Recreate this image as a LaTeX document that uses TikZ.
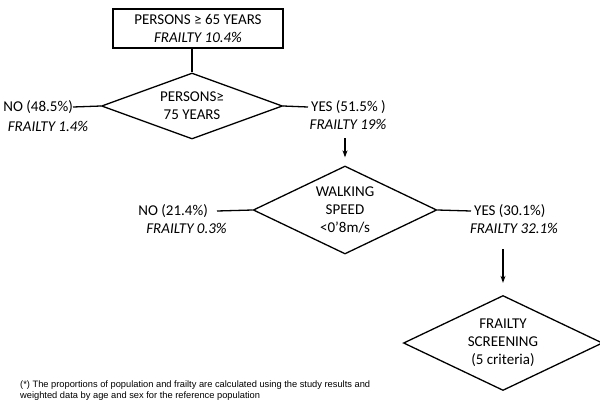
\documentclass[tikz,border=0pt]{standalone}
\usepackage{fontspec}
\setmainfont{Carlito}
\newfontfamily\footfont{Liberation Sans}
\usetikzlibrary{shapes.geometric,arrows.meta}
\begin{document}
\begin{tikzpicture}[x=1pt,y=-1pt,
  every node/.style={font=\fontsize{15}{18}\selectfont, align=center, inner sep=0pt},
  boxnode/.style={draw, line width=1.3pt, minimum width=170pt, minimum height=39pt},
  dia/.style={draw, diamond, line width=1.3pt, shape aspect=2.7},
  frl/.style={font=\fontsize{15}{18}\selectfont\itshape},
  conn/.style={line width=1.3pt},
  arr/.style={line width=1.3pt, -{Stealth[length=7pt,width=5pt]}}
]
\useasboundingbox (0,0) rectangle (600,405);

\node[boxnode] (top) at (198,28.5) {PERSONS ≥ 65 YEARS\\\textit{FRAILTY 10.4\%}};

\node[dia, minimum width=181pt, minimum height=66pt] (d1) at (192,106) {PERSONS≥\\75 YEARS};

\node[anchor=east] (no1) at (73,107) {NO (48.5\%)};
\node[frl] (fr1) at (48,126) {FRAILTY 1.4\%};

\node[anchor=west] (yes1) at (311,107) {YES (51.5\% )};
\node[frl] (fr2) at (348,124) {FRAILTY 19\%};

\node[dia, minimum width=182pt, minimum height=88pt] (d2) at (345,210) {WALKING\\SPEED\\<0’8m/s};

\node[anchor=east] (no2) at (208,211) {NO (21.4\%)};
\node[frl] (fr3) at (186.5,228) {FRAILTY 0.3\%};

\node[anchor=west] (yes2) at (474,211) {YES (30.1\%)};
\node[frl] (fr4) at (514,228) {FRAILTY 32.1\%};

\node[dia, minimum width=183pt, minimum height=95pt] (d3) at (503,343) {FRAILTY\\SCREENING\\(5 criteria)};

\node[anchor=north west, align=left, font=\footfont\fontsize{9.3}{10.5}\selectfont] (foot) at (20,381) {(*) The proportions of population and frailty are calculated using the study results and\\weighted data by age and sex for the reference population};

\draw[conn] (top.south -| d1.north) -- (d1.north);
\draw[conn] (d1.west) -- (no1.east);
\draw[conn] (d1.east) -- ([xshift=-3pt]yes1.west);
\draw[arr] (fr2.south -| d2.north) ++(0,9) coordinate (a1s) (a1s) -- ([yshift=8pt]d2.north);
\draw[conn] (d2.west) -- ([xshift=9pt]no2.east);
\draw[conn] (d2.east) -- ([xshift=-3pt]yes2.west);
\draw[arr] (fr4.south -| d3.north) ++(0,16) coordinate (a2s) (a2s) -- ([yshift=12pt]d3.north);
\end{tikzpicture}
\end{document}
